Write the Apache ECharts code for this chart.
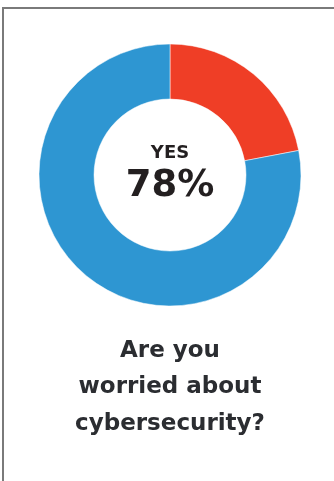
<!DOCTYPE html>
<html>
<head>
<meta charset="utf-8">
<style>
  html, body { margin: 0; padding: 0; background: #fff; overflow: hidden; width: 334px; height: 481px; }
  #frame { position: absolute; left: 2px; top: 7px; right: 0; bottom: 0;
           border-left: 2px solid #7a7a7a; border-top: 2px solid #7a7a7a; }
  #chart { position: absolute; left: 0; top: 0; width: 334px; height: 481px; }
</style>
<script src="https://cdn.jsdelivr.net/npm/echarts@6/dist/echarts.min.js"></script>
</head>
<body>
<div id="frame"></div>
<div id="chart"></div>
<script>
// Survey answers, percent of respondents
const answers = ['No', 'Yes'];
const shares = [22, 78];
const sliceColors = ['#ef3e26', '#2e96d2'];
const headline = 'YES';
const questionLines = ['Are you', 'worried about', 'cybersecurity?'];

const chart = echarts.init(document.getElementById('chart'), null, { renderer: 'canvas' });
const yesShare = shares[answers.indexOf('Yes')];
const cx = 170;
const font = 'DejaVu Sans';

// y is the vertical middle of the capitals
const textEl = (text, y, size, color) => ({
  type: 'text',
  x: cx,
  y: y,
  style: {
    text: text,
    fontFamily: font,
    fontWeight: 'bold',
    fontSize: size,
    fill: color,
    align: 'center',
    verticalAlign: 'middle'
  }
});

chart.setOption({
  animation: false,
  graphic: [
    textEl(headline, 153, 18, '#231f20'),
    textEl(yesShare + '%', 186, 37, '#231f20'),
    ...questionLines.map((line, i) => textEl(line, 351 + i * 36.5, 23, '#2b2d31'))
  ],
  series: [{
    type: 'pie',
    center: [cx, 175],
    radius: [76, 131],
    startAngle: 90,
    clockwise: true,
    label: { show: false },
    labelLine: { show: false },
    emphasis: { disabled: true },
    itemStyle: { borderColor: '#ffffff', borderWidth: 0.5 },
    data: answers.map((name, i) => ({ name, value: shares[i], itemStyle: { color: sliceColors[i] } }))
  }]
});
</script>
</body>
</html>
